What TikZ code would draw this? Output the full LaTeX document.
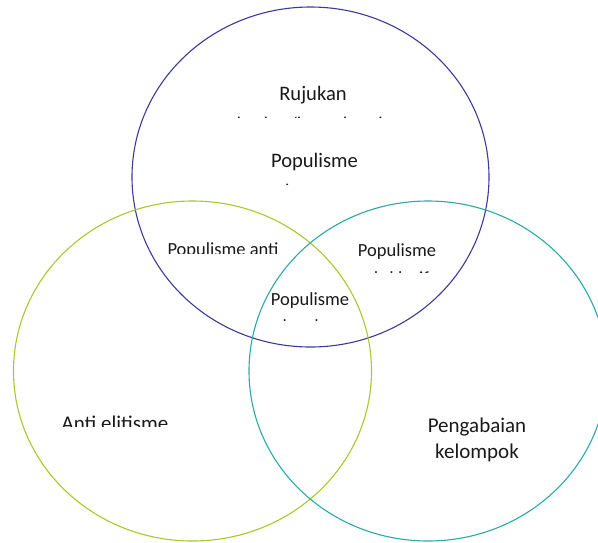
\documentclass[tikz,border=0pt]{standalone}
\usepackage{fontspec}
\setmainfont{Carlito}
\definecolor{topc}{HTML}{3C3A98}
\definecolor{leftc}{HTML}{A6C92B}
\definecolor{rightc}{HTML}{2AA9AB}
\definecolor{txt}{HTML}{1A1A1A}
\tikzset{
  ring/.style={line width=1.1pt},
  big/.style={anchor=base, inner sep=0pt, text=txt, font=\fontsize{20.6}{25}\selectfont},
  mid/.style={anchor=base, inner sep=0pt, text=txt, font=\fontsize{21}{26}\selectfont},
  small/.style={anchor=base, inner sep=0pt, text=txt, font=\fontsize{18.5}{22}\selectfont}
}
\begin{document}
\begin{tikzpicture}[x=1pt,y=-1pt]
\useasboundingbox (0,0) rectangle (598,542);
\begin{scope}
\clip (0,0) rectangle (598,542);
\draw[ring, topc] (310.5,177) ellipse [x radius=178.5pt, y radius=170pt];
\draw[ring, leftc] (192.5,371) ellipse [x radius=179pt, y radius=170pt];
\draw[ring, rightc] (428,371) ellipse [x radius=179pt, y radius=170pt];
\end{scope}
% top circle
\node[big] (ruj) at (313,100) {Rujukan};
\begin{scope}
\clip (0,0) rectangle (598,117);
\node[big] (ruj2) at (313,131.5) {terhadap/kepada rakyat};
\end{scope}
\node[big] (pop1) at (314.5,167) {Populisme};
\begin{scope}
\clip (0,150) rectangle (598,184);
\node[big] (pop1b) at (314.5,198.5) {kosong};
\end{scope}
% intersections
\begin{scope}
\clip (0,230) rectangle (598,253);
\node[small] (popanti) at (223,255) {Populisme anti};
\end{scope}
\node[small] (pop2) at (397,256) {Populisme};
\begin{scope}
\clip (0,262) rectangle (598,272);
\node[small] (pop2b) at (397,284.5) {eksklusif};
\end{scope}
\node[small] (pop3) at (310,305) {Populisme};
\begin{scope}
\clip (0,310) rectangle (598,320);
\node[small] (pop3b) at (312,332.5) {lengkap};
\end{scope}
% left circle
\begin{scope}
\clip (0,400) rectangle (598,426);
\node[mid] (anti) at (115,430) {Anti elitisme};
\end{scope}
% right circle
\node[mid] (peng) at (477,432) {Pengabaian};
\node[mid] (kel) at (477,458) {kelompok};
\end{tikzpicture}
\end{document}
